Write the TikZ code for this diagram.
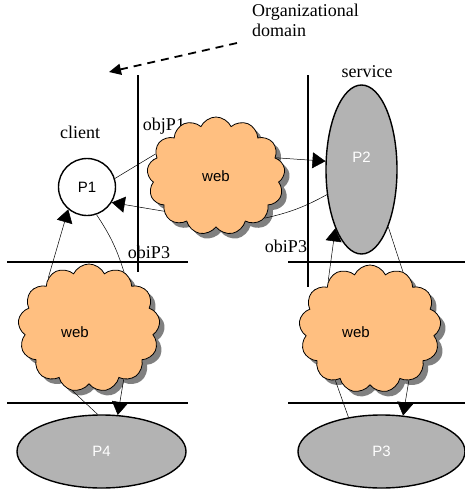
\documentclass[tikz,border=0pt]{standalone}
\usepackage{fontspec}
\setmainfont{Liberation Serif}
\newfontfamily\helv{Liberation Sans}
\usetikzlibrary{shapes.geometric,shapes.symbols,shadows,arrows.meta}

\definecolor{cloudfill}{HTML}{FFBF80}
\definecolor{procgray}{HTML}{B3B3B3}

\begin{document}
\begin{tikzpicture}[x=1pt,y=-1pt,
  seriflbl/.style={font=\fontsize{18}{20}\selectfont, inner sep=0pt},
  sanslbl/.style={font=\helv\fontsize{15}{17}\selectfont},
  webcloud/.style={cloud, cloud puffs=13, cloud puff arc=130,
    draw=black, line width=0.8pt, fill=cloudfill, inner sep=0pt,
    drop shadow={shadow xshift=5pt, shadow yshift=-5pt, fill=black!50, opacity=1},
    sanslbl},
  proc/.style={ellipse, draw=black, line width=1.4pt, fill=procgray, inner sep=0pt},
  conn/.style={line width=0.5pt},
  arr/.style={conn, -{Triangle[length=13pt,width=16pt]}},
  rule/.style={line width=1.6pt},
  dasharrow/.style={line width=1.8pt, dash pattern=on 8pt off 6pt,
    -{Triangle[length=12pt,width=11pt]}},
]
\useasboundingbox[fill=white] (0,0) rectangle (465,491);

% domain boundaries
\draw[rule] (138,75) -- (138,272);
\draw[rule] (308,75) -- (308,287);
\draw[rule] (7,262) -- (188,262);
\draw[rule] (288,262) -- (465,262);
\draw[rule] (7,403) -- (188,403);
\draw[rule] (288,403) -- (465,403);

% caption and its pointer
\node[seriflbl, anchor=north west, align=left] (orgtxt) at (252,4) {Organizational\\domain};
\coordinate (dtail) at (237,43);
\coordinate (dtip) at (109,72);
\draw[dasharrow] (dtail) -- (dtip);

% labels
\node[seriflbl] (clientlbl) at (80,132) {client};
\node[seriflbl] (objpone) at (164,126) {objP1};
\node[seriflbl] (obipthreeL) at (149,252) {obiP3};
\node[seriflbl] (obipthreeR) at (286,246) {obiP3};
\node[seriflbl] (servicelbl) at (367,72) {service};

% processes
\node[circle, draw=black, line width=1.4pt, fill=white, minimum size=57pt,
      inner sep=0pt, sanslbl] (p1) at (87,187) {P1};
\node[proc, minimum width=71pt, minimum height=169pt,
      label={[sanslbl, text=white, yshift=12pt]center:P2}] (p2) at (361.5,169.5) {};
\node[proc, minimum width=169pt, minimum height=73pt,
      label={[sanslbl, text=white]center:P4}] (p4) at (101.5,451.5) {};
\node[proc, minimum width=167pt, minimum height=73pt,
      label={[sanslbl, text=white]center:P3}] (p3) at (381.5,451.5) {};

% networks
\node[webcloud, minimum width=138pt, minimum height=118pt] (tc) at (216,176) {web};
\node[webcloud, minimum width=142pt, minimum height=128pt,
      label={[sanslbl, xshift=-14pt, yshift=-4pt]center:web}] (lc) at (89,328) {};
\node[webcloud, minimum width=142pt, minimum height=128pt,
      label={[sanslbl, xshift=-14pt, yshift=-3pt]center:web}] (rc) at (370,329) {};

% connections
\draw[conn] (p1.17) -- (tc.160);
\draw[arr] (tc.214) -- (p1.-32);
\draw[arr] (tc.17) -- (p2.167);
\draw[conn] (p2.216) to[bend left=8] (tc.-41);
\draw[arr] (lc.129) -- (p1.230);
\draw[conn] (p1.289) to[bend left=8] (lc.58);
\draw[conn] (lc.255) -- (p4.96);
\draw[arr] (lc.-56) -- (p4.66);
\draw[arr] (rc.131) -- (p2.246);
\draw[conn] (p2.-65) -- (rc.60);
\draw[conn] (rc.236) -- (p3.134);
\draw[arr] (rc.-53) -- (p3.59);
\end{tikzpicture}
\end{document}
